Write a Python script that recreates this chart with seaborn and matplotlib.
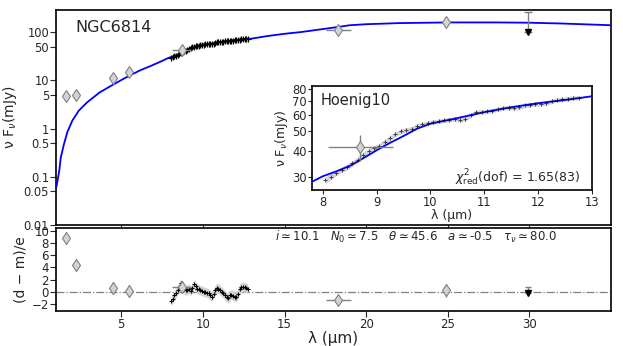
import numpy as np
import pandas as pd
import matplotlib
matplotlib.use('Agg')
import matplotlib.pyplot as plt
import seaborn as sns

#########################
## data

# model SED (blue line)
model_wl = [1.03, 1.07, 1.2, 1.29, 1.49, 1.69, 2.0, 2.4, 2.9, 3.66, 4.3, 5.0, 5.5, 6.2, 6.8, 7.4,
            7.8, 8.0, 8.25, 8.5, 8.75, 9.0, 9.25, 9.5, 9.75, 10.0, 10.5, 11.0, 11.5, 12.0, 12.5, 13.0,
            14.0, 15.0, 16.0, 18.0, 19.0, 20.0, 22.0, 25.0, 28.0, 30.0, 32.0, 35.0]
model_flux = [0.062, 0.076, 0.133, 0.25, 0.48, 0.84, 1.47, 2.37, 3.5, 5.6, 7.5, 10.2, 12.6, 16.5, 20.0, 24.5,
              28.5, 30.3, 32.0, 34.0, 37.0, 40.5, 44.0, 47.5, 51.5, 54.5, 58.0, 62.0, 65.5, 68.5, 71.0, 74.0,
              84.0, 93.0, 101.0, 125.0, 140.0, 147.0, 155.0, 160.0, 160.0, 158.0, 152.0, 140.0]

# photometry (grey diamonds)
phot_wl = [1.6, 2.2, 4.5, 5.5, 8.7, 18.3, 24.9]
phot_flux = [4.7, 5.1, 11.5, 14.8, 42.0, 110.0, 162.0]
phot_ferr = [0.3, 0.3, 2.0, 3.0, 6.0, 6.0, 20.0]
phot_wlerr = [0.0, 0.0, 0.0, 0.0, 0.6, 0.75, 0.0]
phot_resid = [8.8, 4.4, 0.6, 0.1, 0.7, -1.3, 0.2]
phot_rerr = [1.0, 1.0, 1.0, 1.0, 1.0, 0.6, 1.0]

# upper limit
ulim_wl = 29.9
ulim_top = 265.0
ulim_flux = 100.0
ulim_resid_top = 0.8
ulim_resid = -0.2

# mid-IR spectrum (Hoenig10)
spec_wl = [8.05, 8.15, 8.25, 8.35, 8.45, 8.55, 8.65, 8.75, 8.85, 8.95, 9.05, 9.15, 9.25, 9.35, 9.45, 9.55,
           9.65, 9.75, 9.85, 9.95, 10.05, 10.15, 10.25, 10.35, 10.45, 10.55, 10.65, 10.75, 10.85, 10.95,
           11.05, 11.15, 11.25, 11.35, 11.45, 11.55, 11.65, 11.75, 11.85, 11.95, 12.05, 12.15, 12.25,
           12.35, 12.45, 12.55, 12.65, 12.75]
spec_flux = [29.0, 30.2, 31.5, 32.6, 33.6, 35.0, 36.5, 38.5, 40.0, 41.5, 42.5, 44.5, 46.5, 48.5, 50.0, 50.8,
             51.5, 53.0, 54.0, 55.0, 55.5, 56.0, 56.5, 57.0, 57.3, 56.8, 57.5, 60.0, 62.0, 62.2,
             62.5, 63.0, 64.0, 64.8, 65.2, 65.0, 65.5, 66.8, 67.3, 67.8, 68.0, 68.5, 70.0,
             71.0, 71.5, 72.0, 72.8, 72.8]
spec_ferr = [1.0, 1.0, 1.0, 1.0, 1.1, 1.1, 1.1, 1.2, 1.2, 1.2, 1.2, 1.3, 1.3, 1.3, 1.3, 1.3,
             1.3, 1.3, 1.4, 1.4, 1.4, 1.4, 1.4, 1.4, 1.4, 1.4, 1.4, 1.5, 1.5, 1.5,
             1.5, 1.5, 1.5, 1.5, 1.6, 1.6, 1.6, 1.6, 1.6, 1.6, 1.7, 1.7, 1.7,
             1.7, 1.7, 1.8, 1.8, 1.8]
spec_resid = [-1.5, -1.2, -0.6, -0.2, 0.3, 0.8, 1.4, 0.5, 0.4, 0.2, 0.3, 0.5, 0.1, 0.6, 1.2, 0.9,
              0.5, 0.4, 0.2, 0.1, 0.0, -0.1, -0.2, -0.3, -0.6, -0.8, -0.4, 0.2, 0.6, 0.5,
              0.3, 0.0, -0.3, -0.6, -0.9, -1.1, -0.6, -0.5, -0.7, -0.8, -0.9, -0.4, 0.4,
              0.7, 0.8, 0.7, 0.6, 0.5]

main_yticks = [0.01, 0.05, 0.1, 0.5, 1, 5, 10, 50, 100]
main_yticklabels = ['0.01', '0.05', '0.1', '0.5', '1', '5', '10', '50', '100']
inset_yticks = [30, 40, 50, 60, 70, 80]

df_model = pd.DataFrame({'wl': model_wl, 'flux': model_flux})
df_spec = pd.DataFrame({'wl': spec_wl, 'flux': spec_flux, 'err': spec_ferr, 'resid': spec_resid})

#########################
## figure
sns.set_style('ticks')
plt.rcParams['font.family'] = ['DejaVu Sans']
plt.rcParams['axes.linewidth'] = 1.2

fig = plt.figure(figsize=(6.23, 3.46), dpi=100)
ax = fig.add_axes([0.0899, 0.3497, 0.8908, 0.6214])
axr = fig.add_axes([0.0899, 0.1010, 0.8908, 0.2400])
axi = fig.add_axes([0.5008, 0.4509, 0.4494, 0.3006])

phot_kw = dict(fmt='d', ms=6, mfc='lightgray', mec='gray', mew=0.8, ecolor='gray', elinewidth=1.0,
               capsize=0, zorder=5)

###### main panel
ax.fill_between(df_spec['wl'], df_spec['flux'] - df_spec['err'], df_spec['flux'] + df_spec['err'],
                color='lightgray', lw=0, zorder=2)
sns.lineplot(data=df_model, x='wl', y='flux', ax=ax, color='blue', lw=1.3, zorder=3, sort=False)
ax.plot(df_spec['wl'], df_spec['flux'], color='black', lw=1.6, alpha=0.8, zorder=4)
sns.scatterplot(data=df_spec, x='wl', y='flux', ax=ax, marker='+', color='black', s=14, linewidth=0.9, zorder=4)
ax.errorbar(phot_wl, phot_flux, yerr=phot_ferr, xerr=phot_wlerr, **phot_kw)
ax.errorbar([ulim_wl], [ulim_top], yerr=[[ulim_top - ulim_flux], [0]], fmt='none', ecolor='gray',
            elinewidth=1.0, capsize=3, zorder=5)
ax.plot([ulim_wl], [ulim_flux], 'v', color='black', ms=5, zorder=6)
ax.set_yscale('log')
ax.set_xlim(1.0, 35.0)
ax.set_ylim(0.01, 290)
ax.set_yticks(main_yticks)
ax.set_yticklabels(main_yticklabels)
ax.yaxis.set_minor_locator(matplotlib.ticker.NullLocator())
ax.set_xticks([5, 10, 15, 20, 25, 30])
ax.set_xticklabels([])
ax.set_xlabel('')
ax.set_ylabel(r'ν F$_{\nu}$(mJy)', fontsize=10, labelpad=3)
ax.tick_params(labelsize=8.3, length=4, pad=1)
ax.text(0.035, 0.92, 'NGC6814', transform=ax.transAxes, fontsize=11.5, va='center', ha='left')

###### inset
axi.fill_between(df_spec['wl'], df_spec['flux'] - df_spec['err'], df_spec['flux'] + df_spec['err'],
                 color='lightgray', lw=0, zorder=2)
sns.lineplot(data=df_model, x='wl', y='flux', ax=axi, color='blue', lw=1.3, zorder=3, sort=False)
sns.scatterplot(data=df_spec, x='wl', y='flux', ax=axi, marker='+', color='black', s=12, linewidth=0.7,
                alpha=0.7, zorder=4)
axi.errorbar([phot_wl[4]], [phot_flux[4]], yerr=[phot_ferr[4]], xerr=[phot_wlerr[4]], **phot_kw)
axi.set_yscale('log')
axi.set_xlim(7.8, 13.0)
axi.set_ylim(26, 83)
axi.set_yticks(inset_yticks)
axi.set_yticklabels([str(v) for v in inset_yticks])
axi.yaxis.set_minor_locator(matplotlib.ticker.NullLocator())
axi.set_xticks([8, 9, 10, 11, 12, 13])
axi.tick_params(labelsize=8.3, length=3, pad=1)
axi.set_xlabel('λ (μm)', fontsize=9, labelpad=0)
axi.set_ylabel(r'ν F$_{\nu}$(mJy)', fontsize=9, labelpad=1)
axi.text(0.03, 0.86, 'Hoenig10', transform=axi.transAxes, fontsize=10.5, va='center', ha='left')
axi.text(0.96, 0.12, r'$\chi^2_{\rm red}$(dof) = 1.65(83)', transform=axi.transAxes, fontsize=9,
         va='center', ha='right')

###### residuals
axr.axhline(0, color='gray', lw=0.9, ls='-.', zorder=1)
axr.fill_between(df_spec['wl'], df_spec['resid'] - 0.8, df_spec['resid'] + 0.8,
                 color='lightgray', lw=0, zorder=2)
sns.scatterplot(data=df_spec, x='wl', y='resid', ax=axr, marker='+', color='black', s=10, linewidth=0.8, zorder=4)
axr.errorbar(phot_wl, phot_resid, yerr=phot_rerr, xerr=phot_wlerr, **phot_kw)
axr.errorbar([ulim_wl], [ulim_resid_top], yerr=[[ulim_resid_top - ulim_resid], [0]], fmt='none',
             ecolor='gray', elinewidth=1.0, capsize=2, zorder=5)
axr.plot([ulim_wl], [ulim_resid], 'v', color='black', ms=4, zorder=6)
axr.set_xlim(1.0, 35.0)
axr.set_ylim(-3.2, 10.5)
axr.set_yticks([-2, 0, 2, 4, 6, 8, 10])
axr.set_yticklabels(['−2', '0', '2', '4', '6', '8', '10'])
axr.set_xticks([5, 10, 15, 20, 25, 30])
axr.tick_params(labelsize=8.5, length=4, pad=1)
axr.set_xlabel('λ (μm)', fontsize=11, labelpad=0)
axr.set_ylabel('(d − m)/e', fontsize=10, labelpad=3)
axr.text(0.395, 0.89,
         r'$i\simeq$10.1   $N_0\simeq$7.5   $\theta\simeq$45.6   $a\simeq$-0.5   $\tau_\nu\simeq$80.0',
         transform=axr.transAxes, fontsize=8.5, va='center', ha='left')

for a in (ax, axr, axi):
    for s in a.spines.values():
        s.set_visible(True)
        s.set_color('black')

fig.savefig('out.png', dpi=100)
